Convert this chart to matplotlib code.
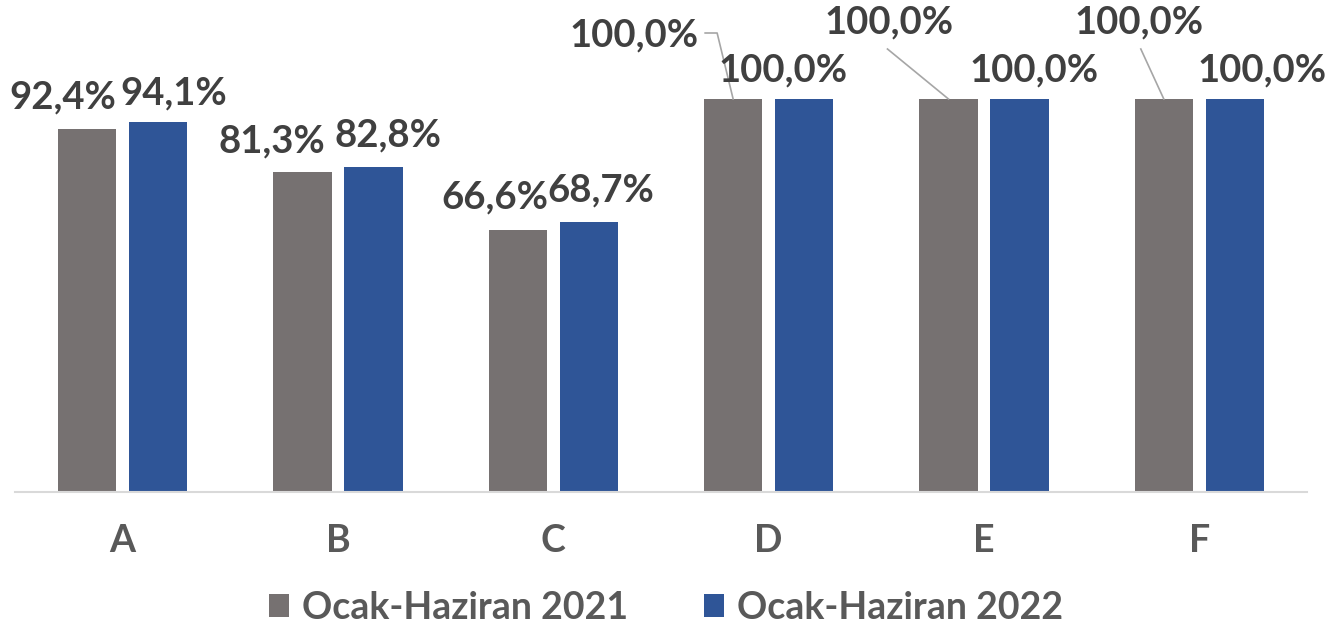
import matplotlib.pyplot as plt
import numpy as np

plt.rcParams['font.family'] = ['Lato', 'DejaVu Sans']

categories = ["A", "B", "C", "D", "E", "F"]
values_2021 = [92.4, 81.3, 66.6, 100.0, 100.0, 100.0]
values_2022 = [94.1, 82.8, 68.7, 100.0, 100.0, 100.0]
series_names = ["Ocak-Haziran 2021", "Ocak-Haziran 2022"]

gray = "#767171"
blue = "#2F5597"
label_color = "#404040"
axis_color = "#595959"

fig = plt.figure(figsize=(13.32, 6.31), dpi=100)
ax = fig.add_axes([15 / 1332, 139 / 631, 1292 / 1332, 492 / 631])

x = np.arange(len(categories))
w = 0.27
off = 0.165
ax.bar(x - off, values_2021, w, color=gray, label=series_names[0])
ax.bar(x + off, values_2022, w, color=blue, label=series_names[1])

ax.set_xlim(-0.5, len(categories) - 0.5)
ax.set_ylim(0, 100 * 492 / 393)
for s in ["top", "right", "left"]:
    ax.spines[s].set_visible(False)
ax.spines["bottom"].set_color("#D9D9D9")
ax.spines["bottom"].set_linewidth(1.5)
ax.set_yticks([])
ax.set_xticks(x)
ax.set_xticklabels(categories, fontsize=27, fontweight="bold", color=axis_color)
ax.tick_params(axis="x", length=0, pad=23)

# label offsets in pixels from bar top center
off_2021 = [(-24, 31), (-31, 31), (-23, 33), (-99, 64), (-59, 77), (-25, 77)]
off_2022 = [(16, 29), (14, 31), (12, 32), (-21, 29), (15, 29), (27, 29)]


def fmt(v):
    return f"{v:.1f}%".replace(".", ",")


def to_data(px, py):
    return ax.transData.inverted().transform((px, py))


for i in range(len(categories)):
    for vals, offs, xpos in [(values_2021, off_2021, x - off), (values_2022, off_2022, x + off)]:
        ax.annotate(fmt(vals[i]), xy=(xpos[i], vals[i]), xytext=offs[i],
                    textcoords="offset pixels", ha="center", va="center",
                    fontsize=27.5, fontweight="bold", color=label_color,
                    annotation_clip=False)

# leader lines for the lifted labels (pixel offsets from bar top)
leaders = {3: [(-28, 66), (-16, 66), (0, 0)], 4: [(-61, 50), (0, 0)], 5: [(-23, 50), (0, 0)]}
for i, pts in leaders.items():
    bx, by = ax.transData.transform((x[i] - off, values_2021[i]))
    xs, ys = zip(*[to_data(bx + dx, by + dy) for dx, dy in pts])
    ax.plot(xs, ys, color="#A6A6A6", lw=1.2, clip_on=False)

leg = fig.legend(loc="center", bbox_to_anchor=(0.5, 1 - 608 / 631), ncol=2, frameon=False,
                 handlelength=0.55, handleheight=0.55, handletextpad=0.35,
                 columnspacing=2.0, prop={"weight": "bold", "size": 27})
for t in leg.get_texts():
    t.set_color(axis_color)

fig.savefig("out.png", dpi=100)
